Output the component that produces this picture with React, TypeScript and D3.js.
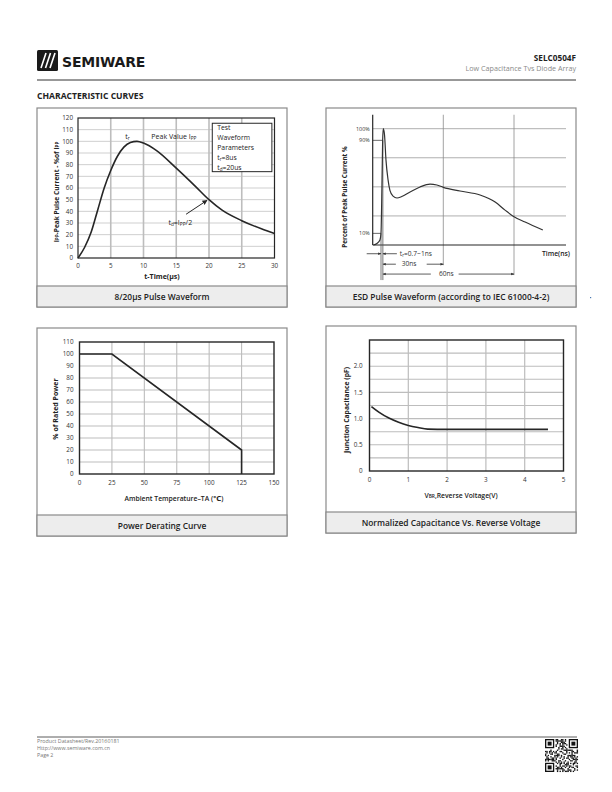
import React from "react";
import * as d3 from "d3";

// ---------- Chart 1: 8/20us pulse waveform ----------
const pulseTime = [0, 1, 2, 3, 4, 5, 6, 7, 8, 9, 10, 12, 15, 18, 20, 22, 25, 28, 30];
const pulseCurrent = [0, 9, 22, 41, 60, 75, 87, 95, 99, 100, 98.5, 92, 77, 61, 50, 41, 32, 25, 21];
const pulseXTicks = [0, 5, 10, 15, 20, 25, 30];
const pulseYTicks = [0, 10, 20, 30, 40, 50, 60, 70, 80, 90, 100, 110, 120];
const pulseBoxLines = ["Test", "Waveform", "Parameters"];

// ---------- Chart 2: ESD pulse waveform ----------
const esdTime = [-3.6, -1.9, -0.5, 0, 0.5, 0.8, 1.1, 1.7, 2.4, 3.4, 4.3, 5.8, 7.7, 10, 14, 18.8, 23.6, 26.9, 30, 37.1, 45.6, 52, 56.2, 60, 64.7, 72.2];
const esdPercent = [0, 1.3, 4.3, 10, 56, 90, 100, 94.6, 73, 56, 47, 42, 40.4, 41.7, 45.6, 49.9, 52.4, 51.6, 49.6, 46.4, 43, 37, 30, 24.3, 19.8, 12.9];
const esdGridPercent = [25, 50, 75, 100];
const esdLevels = [100, 90, 10];
const esdLevelLabels = ["100%", "90%", "10%"];

// ---------- Chart 3: power derating ----------
const deratingTemp = [0, 25, 125, 125];
const deratingPower = [100, 100, 20, 0];
const deratingXTicks = [0, 25, 50, 75, 100, 125, 150];
const deratingYTicks = [0, 10, 20, 30, 40, 50, 60, 70, 80, 90, 100, 110];

// ---------- Chart 4: capacitance vs reverse voltage ----------
const capVoltage = [0.05, 0.25, 0.5, 0.75, 1.0, 1.25, 1.5, 2, 3, 4, 4.6];
const capPF = [1.23, 1.12, 1.01, 0.93, 0.87, 0.83, 0.8, 0.795, 0.795, 0.795, 0.795];
const capXTicks = [0, 1, 2, 3, 4, 5];
const capYLabels = [0, 0.5, 1.0, 1.5, 2.0];
const capYGrid = [0.25, 0.5, 0.75, 1, 1.25, 1.5, 1.75, 2, 2.25];

const footerLines = ["Product Datasheet/Rev.20160181", "Http://www.semiware.com.cn", "Page 2"];

const FONT = "'Open Sans', 'DejaVu Sans', sans-serif";
const TICK = 6.3;
const PANEL_STROKE = "#8a8a8a";
const GRID = "#bdbdbd";
const DARK = "#262626";

function Panel({ x, y, w, h, band, caption }: any) {
  return (
    <g>
      <rect x={x} y={y} width={w} height={h} fill="#fff" stroke={PANEL_STROKE} strokeWidth={1.2} />
      <rect x={x} y={y + h - band} width={w} height={band} fill="#ededed" stroke={PANEL_STROKE} strokeWidth={1.2} />
      <text x={x + w / 2} y={y + h - band / 2 + 3} textAnchor="middle" fontFamily={FONT} fontWeight={600} fontSize={8.4} fill="#222">
        {caption}
      </text>
    </g>
  );
}

function PulseChart() {
  const x = d3.scaleLinear().domain([0, 30]).range([78, 274.5]);
  const y = d3.scaleLinear().domain([0, 120]).range([258, 118]);
  const line = d3.line<number>().x((_, i) => x(pulseTime[i])).y((d) => y(d)).curve(d3.curveMonotoneX);
  const bx0 = x(20.5), bx1 = x(29.6), by0 = y(115.5), by1 = y(74);
  return (
    <g>
      {pulseYTicks.filter((t) => t > 0 && t < 120).map((t) => (
        <line key={"h" + t} x1={x(0)} x2={x(30)} y1={y(t)} y2={y(t)} stroke="#cfcfcf" strokeWidth={1} />
      ))}
      {pulseXTicks.filter((t) => t > 0 && t < 30).map((t) => (
        <line key={"v" + t} x1={x(t)} x2={x(t)} y1={y(0)} y2={y(120)} stroke={GRID} strokeWidth={1.6} />
      ))}
      <rect x={x(0)} y={y(120)} width={x(30) - x(0)} height={y(0) - y(120)} fill="none" stroke={DARK} strokeWidth={1.2} />
      {pulseYTicks.map((t) => (
        <text key={"yl" + t} x={x(0) - 5} y={y(t) + 2.2} textAnchor="end" fontFamily={FONT} fontSize={TICK} fill="#333">{t}</text>
      ))}
      {pulseXTicks.map((t) => (
        <text key={"xl" + t} x={x(t)} y={y(0) + 9.5} textAnchor="middle" fontFamily={FONT} fontSize={TICK} fill="#333">{t}</text>
      ))}
      <path d={line(pulseCurrent) || ""} fill="none" stroke={DARK} strokeWidth={1.6} />
      {/* annotations */}
      <text x={x(7.2)} y={y(102)} fontFamily={FONT} fontSize={7} fill="#222">t<tspan fontSize={4.8} dy={1}>r</tspan></text>
      <text x={x(11.2)} y={y(102)} fontFamily={FONT} fontSize={7} fill="#222">Peak Value I<tspan fontSize={4.8} dy={1}>PP</tspan></text>
      <rect x={bx0} y={by0} width={bx1 - bx0} height={by1 - by0} fill="#fff" stroke={DARK} strokeWidth={1} />
      {pulseBoxLines.map((s, i) => (
        <text key={s} x={bx0 + 5} y={by0 + 6.5 + i * 10} fontFamily={FONT} fontSize={6.8} fill="#222">{s}</text>
      ))}
      <text x={bx0 + 5} y={by0 + 37} fontFamily={FONT} fontSize={6.8} fill="#222">t<tspan fontSize={4.6} dy={1}>r</tspan><tspan dy={-1}>=8us</tspan></text>
      <text x={bx0 + 5} y={by0 + 46.5} fontFamily={FONT} fontSize={6.8} fill="#222">t<tspan fontSize={4.6} dy={1}>d</tspan><tspan dy={-1}>=20us</tspan></text>
      <line x1={x(16.5)} y1={y(37.5)} x2={x(19.7)} y2={y(49.4)} stroke={DARK} strokeWidth={1} markerEnd="url(#arrowBlack)" />
      <text x={x(13.8)} y={y(28.6)} fontFamily={FONT} fontSize={7} fill="#222">t<tspan fontSize={4.8} dy={1}>d</tspan><tspan dy={-1}>=I</tspan><tspan fontSize={4.8} dy={1}>PP</tspan><tspan dy={-1}>/2</tspan></text>
      {/* axis titles */}
      <text x={162} y={279} textAnchor="middle" fontFamily={FONT} fontWeight={700} fontSize={7} fill="#222">t-Time(μs)</text>
      <text transform="rotate(-90)" x={-192} y={59} textAnchor="middle" fontFamily={FONT} fontWeight={700} fontSize={6.6} fill="#222">
        I<tspan fontSize={4.6}>PP</tspan>-Peak Pulse Current - %of I<tspan fontSize={4.6}>PP</tspan>
      </text>
    </g>
  );
}

function EsdChart() {
  const x = d3.scaleLinear().domain([-3.9, 0, 30, 60, 82]).range([372.7, 381, 443.3, 514, 566]);
  const y = d3.scaleLinear().domain([0, 100]).range([245, 128.7]);
  const line = d3.line<number>().x((_, i) => x(esdTime[i])).y((d) => y(d)).curve(d3.curveMonotoneX);
  const x0 = x(-3.9), xEnd = x(82);
  const yTop = y(112);
  const dimY = [y(-7.5), y(-16.5), y(-25)];
  const tA = x(0), tB = x(0.9);
  return (
    <g>
      {esdGridPercent.map((p) => (
        <line key={"g" + p} x1={x0} x2={xEnd} y1={y(p)} y2={y(p)} stroke="#9a9a9a" strokeWidth={0.8} />
      ))}
      <line x1={x(30)} x2={x(30)} y1={yTop} y2={dimY[1] + 1} stroke="#8a8a8a" strokeWidth={0.8} />
      <line x1={x(60)} x2={x(60)} y1={yTop} y2={dimY[2] + 1} stroke="#8a8a8a" strokeWidth={0.8} />
      {/* level markers */}
      <line x1={x0} x2={x(0.85)} y1={y(90)} y2={y(90)} stroke="#444" strokeWidth={0.8} />
      <line x1={x0} x2={x(0)} y1={y(10)} y2={y(10)} stroke="#444" strokeWidth={0.8} />
      {esdLevels.map((p, i) => (
        <text key={"lv" + p} x={x0 - 3} y={y(p) + 1.8} textAnchor="end" fontFamily={FONT} fontSize={5.4} fill="#333">{esdLevelLabels[i]}</text>
      ))}
      {/* axes */}
      <line x1={x0} x2={x0} y1={yTop} y2={y(0)} stroke={DARK} strokeWidth={1.2} />
      <line x1={x0} x2={xEnd} y1={y(0)} y2={y(0)} stroke={DARK} strokeWidth={1.2} />
      {/* extension lines */}
      <line x1={tA} x2={tA} y1={y(10)} y2={dimY[2] + 6} stroke="#555" strokeWidth={0.8} />
      <line x1={tB} x2={tB} y1={y(90)} y2={dimY[2] + 6} stroke="#555" strokeWidth={0.8} />
      <path d={line(esdPercent) || ""} fill="none" stroke="#333" strokeWidth={1.2} />
      {/* dimension: tr */}
      <line x1={x0 - 6} x2={tA} y1={dimY[0]} y2={dimY[0]} stroke="#333" strokeWidth={0.8} markerEnd="url(#arrowSmall)" />
      <line x1={tB + 14} x2={tB} y1={dimY[0]} y2={dimY[0]} stroke="#333" strokeWidth={0.8} markerEnd="url(#arrowSmall)" />
      <text x={tB + 17} y={dimY[0] + 2.2} fontFamily={FONT} fontSize={6.6} fill="#333">t<tspan fontSize={4.5} dy={1}>r</tspan><tspan dy={-1}>=0.7~1ns</tspan></text>
      {/* dimension: 30ns */}
      <line x1={tB + 13} x2={tB} y1={dimY[1]} y2={dimY[1]} stroke="#333" strokeWidth={0.8} markerEnd="url(#arrowSmall)" />
      <line x1={x(22)} x2={x(30)} y1={dimY[1]} y2={dimY[1]} stroke="#333" strokeWidth={0.8} markerEnd="url(#arrowSmall)" />
      <text x={(tB + x(30)) / 2 - 4} y={dimY[1] + 2.2} textAnchor="middle" fontFamily={FONT} fontSize={6.6} fill="#333">30ns</text>
      {/* dimension: 60ns */}
      <line x1={x(24)} x2={tB} y1={dimY[2]} y2={dimY[2]} stroke="#333" strokeWidth={0.8} markerEnd="url(#arrowSmall)" />
      <line x1={x(36.5)} x2={x(60)} y1={dimY[2]} y2={dimY[2]} stroke="#333" strokeWidth={0.8} markerEnd="url(#arrowSmall)" />
      <text x={x(31.3)} y={dimY[2] + 2.2} textAnchor="middle" fontFamily={FONT} fontSize={6.6} fill="#333">60ns</text>
      <text x={570} y={y(-7.5) + 2.2} textAnchor="end" fontFamily={FONT} fontWeight={600} fontSize={6.8} fill="#222">Time(ns)</text>
      <text transform="rotate(-90)" x={-197} y={347} textAnchor="middle" fontFamily={FONT} fontWeight={700} fontSize={6.3} fill="#222">Percent of Peak Pulse Current %</text>
    </g>
  );
}

function DeratingChart() {
  const x = d3.scaleLinear().domain([0, 150]).range([79.5, 274]);
  const y = d3.scaleLinear().domain([0, 110]).range([474, 342]);
  const line = d3.line<number>().x((_, i) => x(deratingTemp[i])).y((d) => y(d));
  return (
    <g>
      {deratingYTicks.filter((t) => t > 0 && t < 110).map((t) => (
        <line key={"h" + t} x1={x(0)} x2={x(150)} y1={y(t)} y2={y(t)} stroke={GRID} strokeWidth={1.1} />
      ))}
      {deratingXTicks.filter((t) => t > 0 && t < 150).map((t) => (
        <line key={"v" + t} x1={x(t)} x2={x(t)} y1={y(0)} y2={y(110)} stroke={GRID} strokeWidth={1.1} />
      ))}
      <rect x={x(0)} y={y(110)} width={x(150) - x(0)} height={y(0) - y(110)} fill="none" stroke={DARK} strokeWidth={1.4} />
      {deratingYTicks.map((t) => (
        <text key={"yl" + t} x={x(0) - 6} y={y(t) + 2.2} textAnchor="end" fontFamily={FONT} fontSize={TICK} fill="#333">{t}</text>
      ))}
      {deratingXTicks.map((t) => (
        <text key={"xl" + t} x={x(t)} y={y(0) + 10.5} textAnchor="middle" fontFamily={FONT} fontSize={TICK} fill="#333">{t}</text>
      ))}
      <path d={line(deratingPower) || ""} fill="none" stroke={DARK} strokeWidth={1.6} />
      <text x={174} y={501} textAnchor="middle" fontFamily={FONT} fontWeight={600} fontSize={6.8} fill="#222">Ambient Temperature–TA (℃)</text>
      <text transform="rotate(-90)" x={-409} y={58} textAnchor="middle" fontFamily={FONT} fontWeight={700} fontSize={7} fill="#222">% of Rated Power</text>
    </g>
  );
}

function CapChart() {
  const x = d3.scaleLinear().domain([0, 5]).range([369.5, 563.5]);
  const y = d3.scaleLinear().domain([0, 2.5]).range([471, 340]);
  const line = d3.line<number>().x((_, i) => x(capVoltage[i])).y((d) => y(d)).curve(d3.curveMonotoneX);
  return (
    <g>
      {capYGrid.map((t) => (
        <line key={"h" + t} x1={x(0)} x2={x(5)} y1={y(t)} y2={y(t)} stroke={GRID} strokeWidth={1.1} />
      ))}
      {capXTicks.filter((t) => t > 0 && t < 5).map((t) => (
        <line key={"v" + t} x1={x(t)} x2={x(t)} y1={y(0)} y2={y(2.5)} stroke={GRID} strokeWidth={1.2} />
      ))}
      <rect x={x(0)} y={y(2.5)} width={x(5) - x(0)} height={y(0) - y(2.5)} fill="none" stroke={DARK} strokeWidth={1.4} />
      {capYLabels.map((t) => (
        <text key={"yl" + t} x={x(0) - 7} y={y(t) + 2.2} textAnchor="end" fontFamily={FONT} fontSize={TICK} fill="#333">{t === 0 ? "0" : t.toFixed(1)}</text>
      ))}
      {capXTicks.map((t) => (
        <text key={"xl" + t} x={x(t)} y={y(0) + 10.5} textAnchor="middle" fontFamily={FONT} fontSize={TICK} fill="#333">{t}</text>
      ))}
      <path d={line(capPF) || ""} fill="none" stroke={DARK} strokeWidth={1.6} />
      <text x={461} y={498} textAnchor="middle" fontFamily={FONT} fontWeight={600} fontSize={6.8} fill="#222">
        V<tspan fontSize={4.8}>BR</tspan>,Reverse Voltage(V)
      </text>
      <text transform="rotate(-90)" x={-410} y={349} textAnchor="middle" fontFamily={FONT} fontWeight={700} fontSize={6.8} fill="#222">Junction Capacitance (pF)</text>
    </g>
  );
}

function QrCode({ x, y, size }: any) {
  const n = 25;
  const m = size / n;
  const cells: any[] = [];
  const inFinder = (i: number, j: number) =>
    (i < 8 && j < 8) || (i < 8 && j >= n - 8) || (i >= n - 8 && j < 8);
  for (let i = 0; i < n; i++) {
    for (let j = 0; j < n; j++) {
      if (inFinder(i, j)) continue;
      if ((i * 7 + j * 11 + ((i * j) % 7)) % 3 === 0 || (i + 2 * j) % 5 === 1) {
        cells.push(<rect key={i + "-" + j} x={x + j * m} y={y + i * m} width={m + 0.05} height={m + 0.05} fill="#111" />);
      }
    }
  }
  const finder = (fx: number, fy: number, k: string) => (
    <g key={k}>
      <rect x={fx} y={fy} width={7 * m} height={7 * m} fill="#111" />
      <rect x={fx + m} y={fy + m} width={5 * m} height={5 * m} fill="#fff" />
      <rect x={fx + 2 * m} y={fy + 2 * m} width={3 * m} height={3 * m} fill="#111" />
    </g>
  );
  return (
    <g>
      {cells}
      {finder(x, y, "a")}
      {finder(x + (n - 7) * m, y, "b")}
      {finder(x, y + (n - 7) * m, "c")}
    </g>
  );
}

export default function App() {
  return (
    <div style={{ position: "absolute", left: 0, top: 0 }}>
      <svg width={612} height={792} viewBox="0 0 612 792" style={{ display: "block", background: "#fff" }}>
        <defs>
          <marker id="arrowBlack" viewBox="0 0 10 10" refX={9} refY={5} markerWidth={5} markerHeight={5} orient="auto">
            <path d="M0,0 L10,5 L0,10 z" fill={DARK} />
          </marker>
          <marker id="arrowSmall" viewBox="0 0 10 10" refX={9} refY={5} markerWidth={4} markerHeight={4} orient="auto">
            <path d="M0,1 L10,5 L0,9 z" fill="#333" />
          </marker>
        </defs>

        {/* header */}
        <rect x={37} y={50} width={21} height={21} rx={1.5} fill="#1a1a1a" />
        <path d="M46,53 L41,68 M50.5,53 L45.5,68 M55,53 L50,68" stroke="#fff" strokeWidth={1.6} fill="none" />
        <text x={62} y={67} fontFamily="'DejaVu Sans', sans-serif" fontWeight={700} fontSize={14} fill="#1a1a1a" letterSpacing={-0.2}>SEMIWARE</text>
        <text x={576} y={61} textAnchor="end" fontFamily={FONT} fontWeight={700} fontSize={8.2} fill="#222">SELC0504F</text>
        <text x={576} y={71} textAnchor="end" fontFamily={FONT} fontSize={7.2} fill="#8a8a8a">Low Capacitance Tvs Diode Array</text>
        <line x1={37} x2={576} y1={80} y2={80} stroke="#333" strokeWidth={1} />
        <text x={37} y={99} fontFamily={FONT} fontWeight={700} fontSize={8.6} fill="#222">CHARACTERISTIC CURVES</text>

        {/* panels */}
        <Panel x={37} y={108} w={250} h={199} band={21} caption="8/20μs Pulse Waveform" />
        <Panel x={326} y={108} w={250} h={199} band={21} caption="ESD Pulse Waveform (according to IEC 61000-4-2)" />
        <Panel x={37} y={328} w={250} h={208} band={21} caption="Power Derating Curve" />
        <Panel x={326} y={326} w={250} h={207} band={21} caption="Normalized Capacitance Vs. Reverse Voltage" />

        <PulseChart />
        <EsdChart />
        <DeratingChart />
        <CapChart />

        <rect x={590} y={297} width={1.2} height={1.2} fill="#4a78b0" />

        {/* footer */}
        <line x1={37} x2={577} y1={737} y2={737} stroke="#333" strokeWidth={0.8} />
        {footerLines.map((s, i) => (
          <text key={s} x={37} y={743 + i * 7} fontFamily={FONT} fontSize={5.3} fill="#777">{s}</text>
        ))}
        <QrCode x={545} y={739} size={33} />
      </svg>
    </div>
  );
}
